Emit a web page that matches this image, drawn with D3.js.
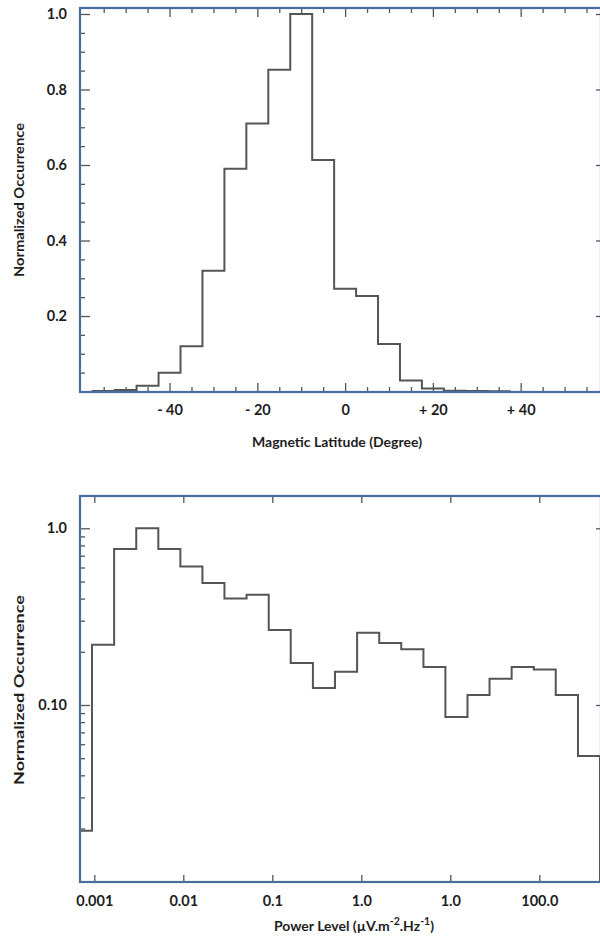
<!DOCTYPE html>
<html>
<head>
<meta charset="utf-8">
<script src="https://cdn.jsdelivr.net/npm/d3@7"></script>
<style>
  html, body { margin: 0; padding: 0; background: #ffffff; }
  svg { display: block; }
  text { font-family: Lato, "Open Sans", sans-serif; font-weight: 700; fill: #1e1e1e; }
</style>
</head>
<body>
<svg id="chart" width="600" height="938"></svg>
<script>
// ---- Panel A: magnetic latitude histogram (5 degree bins) ----
const latEdges = [-57.5, -52.5, -47.5, -42.5, -37.5, -32.5, -27.5, -22.5, -17.5, -12.5,
                  -7.5, -2.5, 2.5, 7.5, 12.5, 17.5, 22.5, 27.5, 32.5, 37.5];
const latValues = [0.001, 0.004, 0.015, 0.050, 0.120, 0.320, 0.590, 0.710, 0.852, 1.000,
                   0.613, 0.272, 0.253, 0.126, 0.029, 0.008, 0.002, 0.001, 0.0005];
const latMajorTicks = [-40, -20, 0, 20, 40];
const latTickLabels = ["- 40", "- 20", "0", "+ 20", "+ 40"];
const latMinorTicks = [-55, -50, -45, -35, -30, -25, -15, -10, -5, 5, 10, 15, 25, 30, 35, 45, 50, 55];
const occMajorTicks = [0.2, 0.4, 0.6, 0.8, 1.0];
const occTickLabels = ["0.2", "0.4", "0.6", "0.8", "1.0"];
const occMinorTicks = [0.05, 0.1, 0.15, 0.25, 0.3, 0.35, 0.45, 0.5, 0.55, 0.65, 0.7, 0.75, 0.85, 0.9, 0.95];

// ---- Panel B: power level histogram (log bins) ----
const powerEdges = [0.0005, 0.000942, 0.00167, 0.00296, 0.00524, 0.00927, 0.0164, 0.0290, 0.0514,
                    0.0912, 0.161, 0.286, 0.506, 0.897, 1.59, 2.81, 4.99, 8.81, 15.6, 27.6,
                    48.9, 86.7, 153, 272, 481];
const powerValues = [0.0194, 0.219, 0.764, 1.000, 0.764, 0.607, 0.490, 0.400, 0.420, 0.266,
                     0.173, 0.125, 0.154, 0.256, 0.224, 0.207, 0.164, 0.0855, 0.114, 0.141,
                     0.164, 0.159, 0.114, 0.0514];
const powerTicks = [0.001, 0.01, 0.1, 1, 10, 100];
const powerTickLabels = ["0.001", "0.01", "0.1", "1.0", "1.0", "100.0"];
const logOccMajorTicks = [0.1, 1.0];
const logOccTickLabels = ["0.10", "1.0"];
const logOccMinorTicks = [0.02, 0.03, 0.04, 0.05, 0.06, 0.07, 0.08, 0.09,
                          0.2, 0.3, 0.4, 0.5, 0.6, 0.7, 0.8, 0.9];

const frameColor = "#4a6d9c";
const tickColor = "#555555";
const lineColor = "#555555";

const svg = d3.select("#chart");

// Draw tick marks with d3 axes; size<0 points into the plot.
function tickRow(g, axisFn, scale, values, size) {
  const ax = axisFn(scale).tickValues(values).tickSize(size).tickFormat("");
  g.call(ax);
  g.select(".domain").remove();
  g.selectAll(".tick line").attr("stroke", tickColor).attr("stroke-width", 1.3);
}

function labelRow(g, axisFn, scale, values, labels, pad, fontSize) {
  const ax = axisFn(scale).tickValues(values).tickSize(0).tickPadding(pad)
    .tickFormat((d, i) => labels[i]);
  g.call(ax);
  g.select(".domain").remove();
  g.selectAll(".tick line").remove();
  g.selectAll(".tick text").attr("font-size", fontSize)
    .attr("font-family", "Lato, sans-serif").attr("font-weight", 700).attr("fill", "#1e1e1e");
}

function frame(box) {
  svg.append("rect")
    .attr("x", box.left).attr("y", box.top)
    .attr("width", box.right - box.left).attr("height", box.bottom - box.top)
    .attr("fill", "none").attr("stroke", frameColor).attr("stroke-width", 2.2);
}

// ================= Panel A =================
const boxA = { left: 80, right: 601, top: 8, bottom: 392 };
const xA = d3.scaleLinear().domain([-60.4, 58.3]).range([boxA.left, boxA.right]);
const yA = d3.scaleLinear().domain([0, 1]).range([391.5, 14]);

const gA = svg.append("g");
tickRow(gA.append("g").attr("transform", `translate(0,${boxA.bottom})`), d3.axisBottom, xA, latMinorTicks, -5);
tickRow(gA.append("g").attr("transform", `translate(0,${boxA.bottom})`), d3.axisBottom, xA, latMajorTicks, -9);
tickRow(gA.append("g").attr("transform", `translate(0,${boxA.top})`), d3.axisTop, xA, latMinorTicks, -5);
tickRow(gA.append("g").attr("transform", `translate(0,${boxA.top})`), d3.axisTop, xA, latMajorTicks, -9);
tickRow(gA.append("g").attr("transform", `translate(${boxA.left},0)`), d3.axisLeft, yA, occMinorTicks, -5);
tickRow(gA.append("g").attr("transform", `translate(${boxA.left},0)`), d3.axisLeft, yA, occMajorTicks, -10);
tickRow(gA.append("g").attr("transform", `translate(${boxA.right},0)`), d3.axisRight, yA, occMajorTicks, -5);

// step outline of the latitude histogram
const stepA = [[latEdges[0], 0]];
latValues.forEach((v, i) => { stepA.push([latEdges[i], v]); stepA.push([latEdges[i + 1], v]); });
stepA.push([latEdges[latEdges.length - 1], 0]);
gA.append("path")
  .datum(stepA)
  .attr("fill", "none").attr("stroke", lineColor).attr("stroke-width", 2)
  .attr("d", d3.line().x(d => xA(d[0])).y(d => yA(d[1])));

frame(boxA);

labelRow(gA.append("g").attr("transform", `translate(0,${boxA.bottom})`), d3.axisBottom, xA, latMajorTicks, latTickLabels, 13, 14.5);
labelRow(gA.append("g").attr("transform", `translate(${boxA.left},0)`), d3.axisLeft, yA, occMajorTicks, occTickLabels, 13, 14.5);

svg.append("text")
  .attr("x", 337).attr("y", 447).attr("text-anchor", "middle").attr("font-size", 14)
  .text("Magnetic Latitude (Degree)");
svg.append("text")
  .attr("transform", "translate(24,200) rotate(-90)")
  .attr("text-anchor", "middle").attr("font-size", 13)
  .attr("textLength", 154).attr("lengthAdjust", "spacingAndGlyphs")
  .text("Normalized Occurrence");

// ================= Panel B =================
const boxB = { left: 80, right: 601, top: 496, bottom: 882 };
const xB = d3.scaleLog().domain([0.001, 100]).range([94.3, 539.3]);
const yB = d3.scaleLog().domain([0.1, 1]).range([705, 528.3]);

const gB = svg.append("g");
const clipB = svg.append("clipPath").attr("id", "clipB");
clipB.append("rect").attr("x", boxB.left).attr("y", boxB.top)
  .attr("width", boxB.right - boxB.left).attr("height", boxB.bottom - boxB.top);

tickRow(gB.append("g").attr("transform", `translate(0,${boxB.bottom})`), d3.axisBottom, xB, powerTicks, -7);
tickRow(gB.append("g").attr("transform", `translate(0,${boxB.top})`), d3.axisTop, xB, powerTicks, -7);
tickRow(gB.append("g").attr("transform", `translate(${boxB.left},0)`), d3.axisLeft, yB, logOccMinorTicks, -5);
tickRow(gB.append("g").attr("transform", `translate(${boxB.left},0)`), d3.axisLeft, yB, logOccMajorTicks, -10);
tickRow(gB.append("g").attr("transform", `translate(${boxB.right},0)`), d3.axisRight, yB, logOccMajorTicks, -5);

const yFloor = yB.invert(boxB.bottom);
const stepB = [];
powerValues.forEach((v, i) => { stepB.push([powerEdges[i], v]); stepB.push([powerEdges[i + 1], v]); });
stepB.push([powerEdges[powerEdges.length - 1], yFloor]);
gB.append("path")
  .datum(stepB)
  .attr("clip-path", "url(#clipB)")
  .attr("fill", "none").attr("stroke", lineColor).attr("stroke-width", 2)
  .attr("d", d3.line().x(d => xB(d[0])).y(d => yB(d[1])));

frame(boxB);

labelRow(gB.append("g").attr("transform", `translate(0,${boxB.bottom})`), d3.axisBottom, xB, powerTicks, powerTickLabels, 14, 14.5);
labelRow(gB.append("g").attr("transform", `translate(${boxB.left},0)`), d3.axisLeft, yB, logOccMajorTicks, logOccTickLabels, 13, 14.5);

const xt = svg.append("text")
  .attr("x", 354).attr("y", 931).attr("text-anchor", "middle").attr("font-size", 14);
xt.append("tspan").text("Power Level (\u00b5V.m");
xt.append("tspan").attr("dy", -6).attr("font-size", 10.5).text("-2");
xt.append("tspan").attr("dy", 6).text(".Hz");
xt.append("tspan").attr("dy", -6).attr("font-size", 10.5).text("-1");
xt.append("tspan").attr("dy", 6).text(")");

svg.append("text")
  .attr("transform", "translate(24,690) rotate(-90)")
  .attr("text-anchor", "middle").attr("font-size", 13)
  .attr("textLength", 190).attr("lengthAdjust", "spacingAndGlyphs")
  .text("Normalized Occurrence");
</script>
</body>
</html>
